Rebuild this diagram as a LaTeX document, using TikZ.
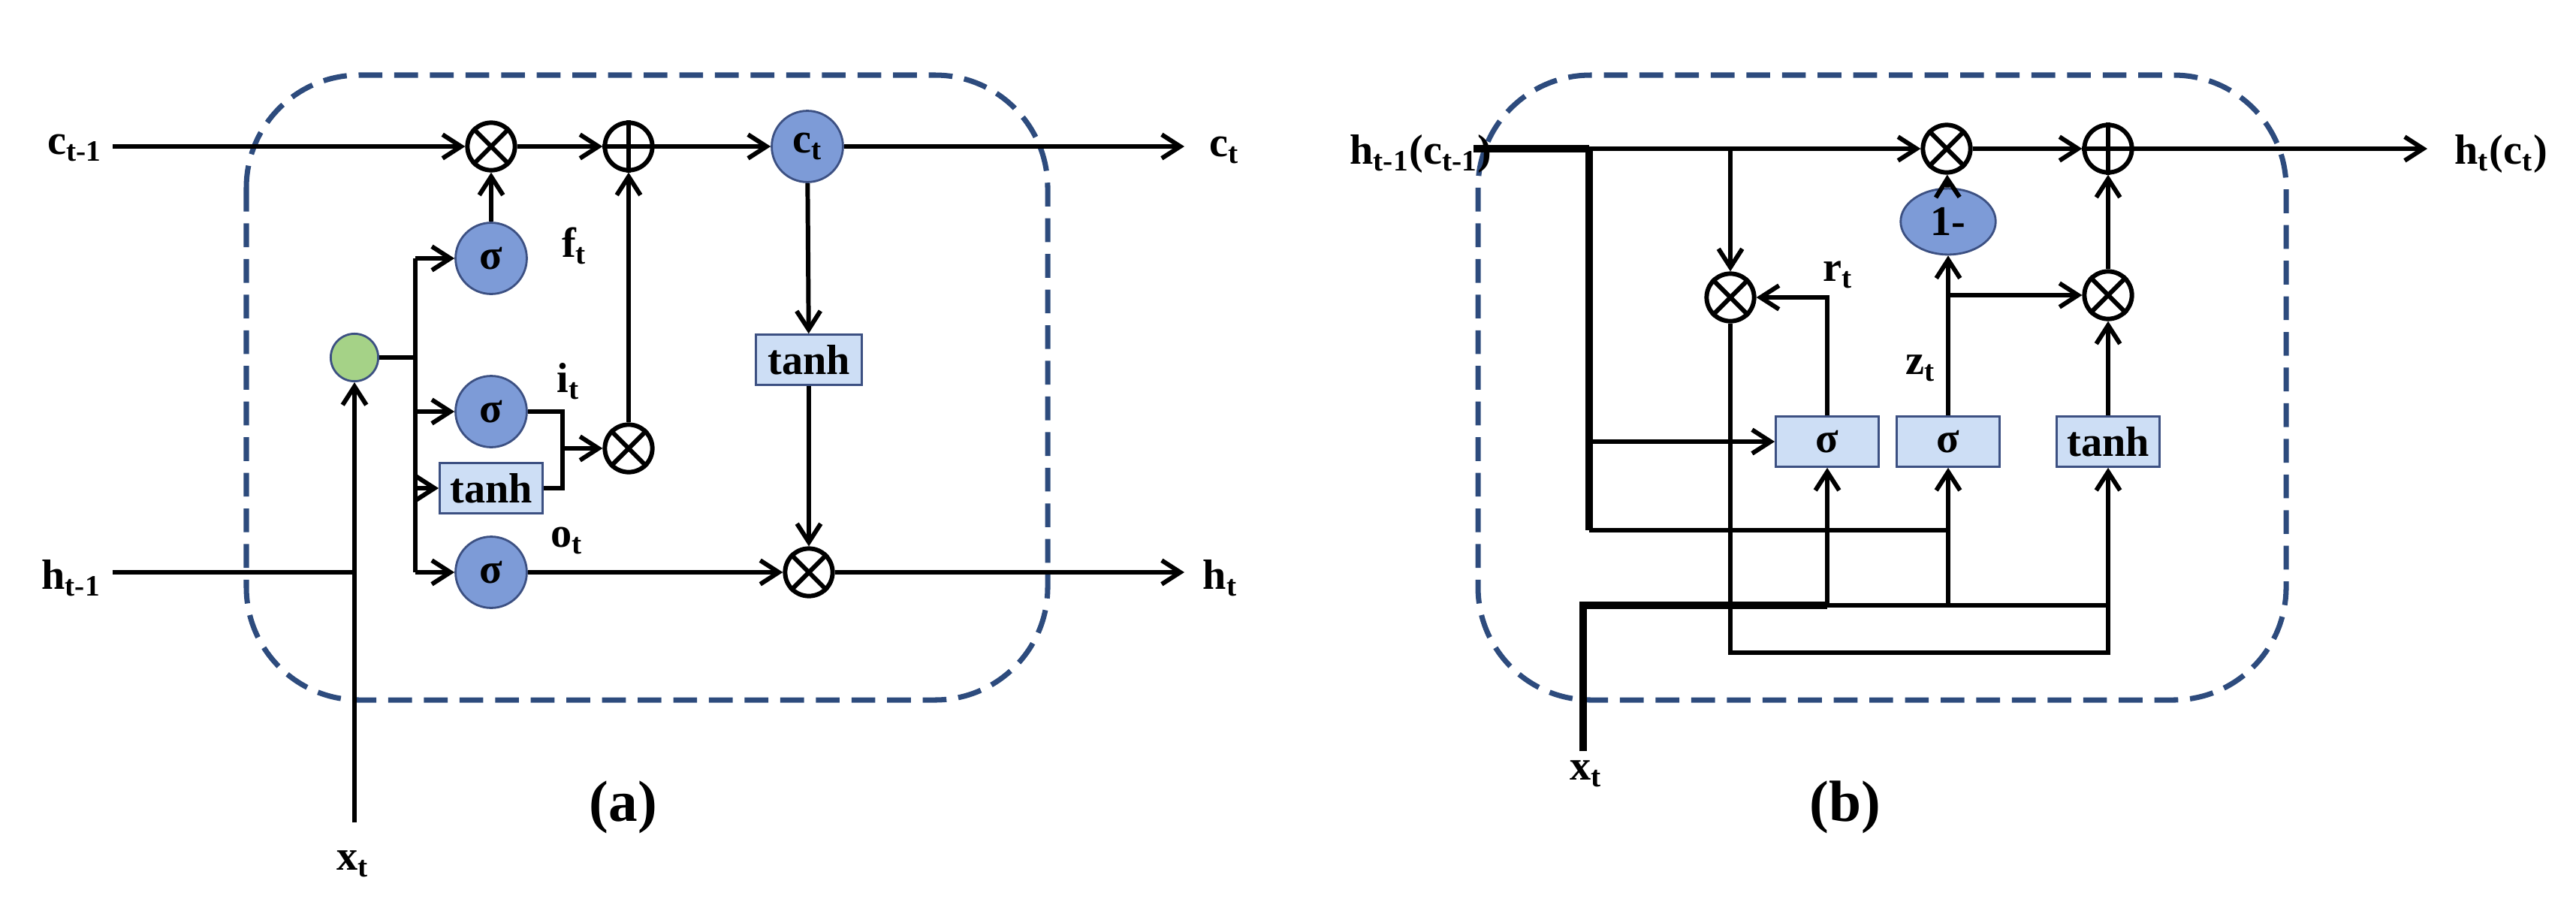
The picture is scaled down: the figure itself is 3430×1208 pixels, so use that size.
\documentclass[tikz,border=0pt]{standalone}
\usepackage{fontspec}
\setmainfont{Liberation Serif}
\usetikzlibrary{arrows.meta,shapes.geometric}
\definecolor{cfill}{RGB}{125,155,215}
\definecolor{cdraw}{RGB}{60,80,130}
\definecolor{bfill}{RGB}{205,222,245}
\definecolor{gfill}{RGB}{165,210,135}
\definecolor{dashc}{RGB}{45,75,125}
\begin{document}
\begin{tikzpicture}[x=0.1mm,y=-0.1mm,
  every node/.style={font=\fontsize{16}{18}\selectfont\bfseries},
  ln/.style={line width=1.7pt},
  thk/.style={line width=2.8pt},
  ar/.style={ln,-{Straight Barb[length=7pt,width=9pt,line width=1.7pt]}},
  frame/.style={draw=dashc,line width=2pt,dash pattern=on 9pt off 4.5pt,rounded corners=15mm},
  sig/.style={circle,draw=cdraw,fill=cfill,minimum size=27pt,inner sep=0pt,line width=0.8pt},
  box/.style={rectangle,draw=cdraw,fill=bfill,minimum width=39pt,minimum height=19pt,inner sep=0pt,line width=0.8pt},
  op/.style={circle,draw,line width=1.7pt,minimum size=18pt,inner sep=0pt,fill=white},
  lab/.style={inner sep=1pt}]
\useasboundingbox (0,0) rectangle (3430,1208);
\newcommand{\otimesnode}[2]{\node[op] (#1) at #2 {};
  \draw[ln] (#1.north west) -- (#1.south east) (#1.north east) -- (#1.south west);}
\newcommand{\oplusnode}[2]{\node[op] (#1) at #2 {};
  \draw[ln] (#1.north) -- (#1.south) (#1.east) -- (#1.west);}
% ---------- (a) ----------
\draw[frame] (328,100) rectangle (1395,932);
\node[lab] (cin) at (100,197) {c\textsubscript{t-1}};
\node[lab] (hin) at (95,770) {h\textsubscript{t-1}};
\node[lab] (xt) at (470,1150) {x\textsubscript{t}};
\node[lab] (cout) at (1630,200) {c\textsubscript{t}};
\node[lab] (hout) at (1625,770) {h\textsubscript{t}};
\node (la) at (830,1075) {\fontsize{22}{24}\selectfont (a)};
\coordinate (cs) at (150,195);
\coordinate (hs) at (150,762);
\coordinate (ce) at (1577,195);
\coordinate (he) at (1577,762);
\coordinate (xb) at (472,1095);
\node[circle,draw=cdraw,fill=gfill,minimum size=18pt,inner sep=0pt,line width=0.8pt] (g) at (472,476) {};
\otimesnode{m1}{(654,195)}
\oplusnode{p1}{(837,195)}
\node[sig] (ct) at (1075,195) {c\textsubscript{t}};
\node[sig] (sf) at (654,344) {σ};
\node[sig] (si) at (654,548) {σ};
\node[box] (ta) at (654,650) {tanh};
\node[sig] (so) at (654,762) {σ};
\otimesnode{m2}{(837,597)}
\node[box,minimum width=40pt] (tb) at (1077,479) {tanh};
\otimesnode{m3}{(1077,762)}
\node[lab] at (765,327) {f\textsubscript{t}};
\node[lab] at (757,508) {i\textsubscript{t}};
\node[lab] at (755,720) {o\textsubscript{t}};
\draw[ar] (cs) -- (m1);
\draw[ar] (m1) -- (p1);
\draw[ar] (p1) -- (ct);
\draw[ar] (ct) -- (ce);
\draw[ar] (sf) -- (m1);
\draw[ln] (hs) -- (472,762);
\draw[ar] (xb) -- (g);
\draw[ln] (g) -- (553,476);
\draw[ln] (553,344) -- (553,762);
\draw[ar] (553,344) -- (sf);
\draw[ar] (553,548) -- (si);
\draw[ar] (553,650) -- (ta);
\draw[ar] (553,762) -- (so);
\draw[ln] (si.east) -| (749,650) -- (ta.east);
\draw[ar] (749,597) -- (m2);
\draw[ar] (m2) -- (p1);
\draw[ar] (ct) -- (tb);
\draw[ar] (tb) -- (m3);
\draw[ar] (so) -- (m3);
\draw[ar] (m3) -- (he);
% ---------- (b) ----------
\draw[frame] (1968,100) rectangle (3044,932);
\node[lab] (hin2) at (1892,205) {h\textsubscript{t-1}(c\textsubscript{t-1})};
\node[lab] (hout2) at (3330,205) {h\textsubscript{t}(c\textsubscript{t})};
\node[lab] (xt2) at (2112,1030) {x\textsubscript{t}};
\node (lb) at (2457,1075) {\fontsize{22}{24}\selectfont (b)};
\coordinate (hs2) at (1962,198);
\coordinate (he2) at (3232,198);
\coordinate (xb2) at (2108,1000);
\otimesnode{ma}{(2592,198)}
\oplusnode{pa}{(2807,198)}
\node[ellipse,draw=cdraw,fill=cfill,minimum width=36pt,minimum height=25pt,inner sep=0pt,line width=0.8pt] (om) at (2594,295) {1-};
\otimesnode{mr}{(2304,396)}
\otimesnode{mb}{(2807,393)}
\node[box] (sr) at (2433,588) {σ};
\node[box] (sz) at (2594,588) {σ};
\node[box] (tc) at (2807,588) {tanh};
\node[lab] at (2447,366) {r\textsubscript{t}};
\node[lab] at (2557,490) {z\textsubscript{t}};
\draw[thk] (hs2) -- (2116,198);
\draw[ar] (2116,198) -- (ma);
\draw[ar] (ma) -- (pa);
\draw[ar] (pa) -- (he2);
\draw[thk] (2116,198) -- (2116,706);
\draw[ln] (2116,706) -| (2594,690);
\draw[ar] (2116,588) -- (sr);
\draw[ar] (2304,198) -- (mr);
\draw[ar] (sr) -- (2433,396) -- (mr);
\draw[ln] (mr) -- (2304,869) -| (2807,806);
\draw[thk] (xb2) -- (2108,806) -- (2433,806);
\draw[ln] (2433,806) -- (2807,806);
\draw[ar] (2433,806) -- (sr);
\draw[ar] (2594,806) -- (sz);
\draw[ar] (2807,806) -- (tc);
\draw[ar] (sz) -- (om);
\draw[ar] (om) -- (ma);
\draw[ar] (2594,393) -- (mb);
\draw[ar] (tc) -- (mb);
\draw[ar] (mb) -- (pa);
\end{tikzpicture}
\end{document}
